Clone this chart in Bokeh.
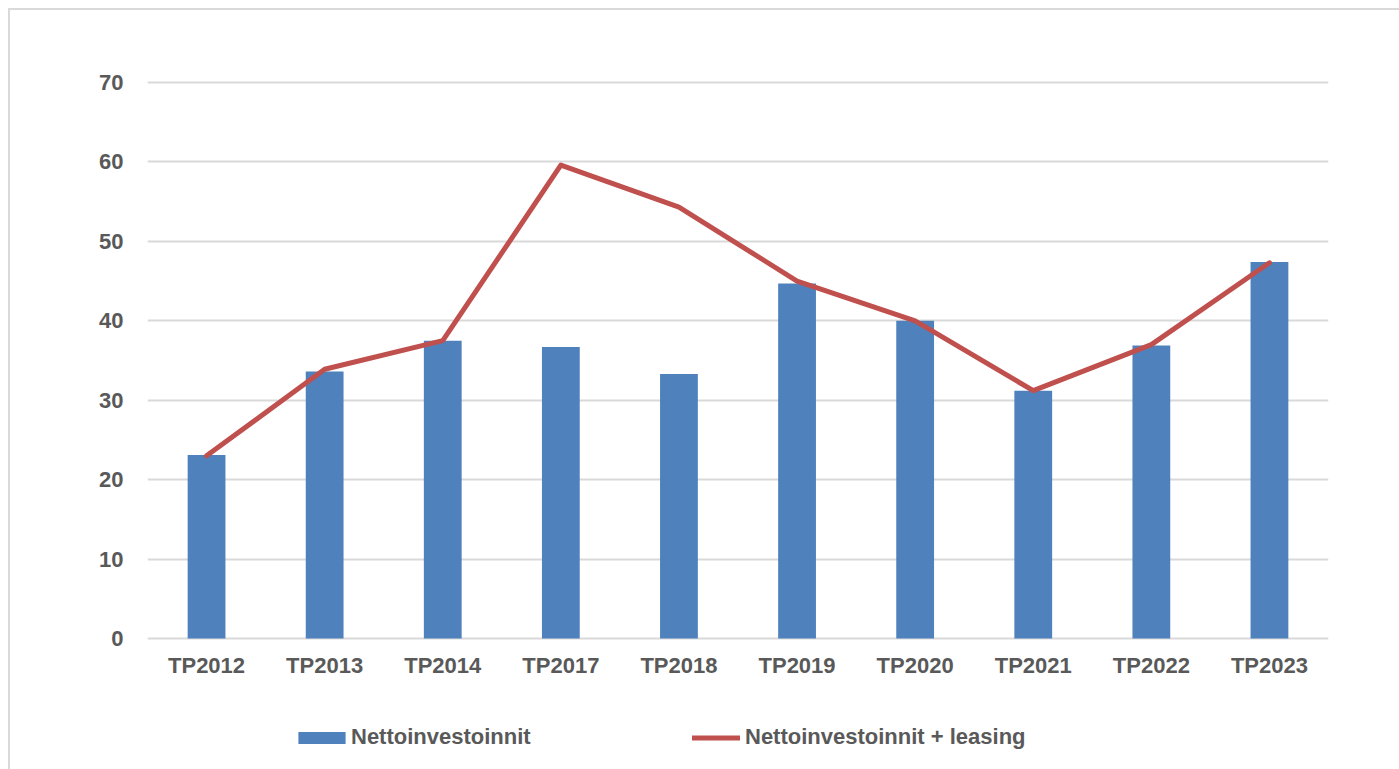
from bokeh.plotting import figure
from bokeh.models import (ColumnDataSource, FactorRange, Range1d, FixedTicker,
                          Legend, LegendItem)
from bokeh.layouts import column
from bokeh.embed import file_html
from bokeh.resources import INLINE

categories = ["TP2012", "TP2013", "TP2014", "TP2017", "TP2018",
              "TP2019", "TP2020", "TP2021", "TP2022", "TP2023"]
nettoinvestoinnit = [23.1, 33.6, 37.5, 36.7, 33.3, 44.7, 40.0, 31.2, 36.9, 47.4]
nettoinvestoinnit_leasing = [23.0, 33.9, 37.5, 59.6, 54.3, 45.0, 40.0, 31.2, 37.0, 47.3]
y_ticks = [0, 10, 20, 30, 40, 50, 60, 70]
series_names = ["Nettoinvestoinnit", "Nettoinvestoinnit + leasing"]

BAR_COLOR = "#4F81BD"
LINE_COLOR = "#C0504D"
TEXT = "#595959"
GRID = "#d9d9d9"
FONT = "Liberation Sans"

src = ColumnDataSource(dict(cat=categories, bar=nettoinvestoinnit,
                            line=nettoinvestoinnit_leasing))

p = figure(x_range=FactorRange(*categories), y_range=Range1d(-0.25, 70.25),
           width=1389, height=690, output_backend="svg", toolbar_location=None,
           min_border_left=137, min_border_right=71, min_border_top=70,
           min_border_bottom=60)
p.outline_line_color = None
p.background_fill_color = "white"
p.border_fill_color = "white"

p.vbar(x="cat", top="bar", bottom=0, width=0.32, source=src,
       fill_color=BAR_COLOR, line_color=None)
p.line(x="cat", y="line", source=src, line_color=LINE_COLOR,
       line_width=5, line_join="round", line_cap="round")

p.xgrid.grid_line_color = None
p.ygrid.grid_line_color = GRID
p.ygrid.grid_line_width = 2
p.yaxis.ticker = FixedTicker(ticks=y_ticks)

for ax in (p.xaxis[0], p.yaxis[0]):
    ax.axis_line_color = None
    ax.major_tick_line_color = None
    ax.minor_tick_line_color = None
    ax.major_label_text_font = FONT
    ax.major_label_text_font_style = "bold"
    ax.major_label_text_font_size = "22px"
    ax.major_label_text_color = TEXT
p.yaxis.major_label_standoff = 18
p.xaxis.major_label_standoff = 6

# legend strip (separate small canvas below the chart; frames are aligned)
lg = figure(width=1389, height=69, output_backend="svg", toolbar_location=None,
            x_range=Range1d(0, 1), y_range=Range1d(0, 1),
            min_border_left=0, min_border_right=0, min_border_top=0,
            min_border_bottom=0, x_axis_location=None, y_axis_location=None)
lg.outline_line_color = None
lg.grid.visible = False
lg.background_fill_color = "white"
lg.border_fill_color = "white"
dummy = ColumnDataSource(dict(x=[-10, -9], y=[-10, -10]))
r_bar = lg.vbar(x="x", top="y", width=0.3, source=dummy,
                fill_color=BAR_COLOR, line_color=None)
r_line = lg.line(x="x", y="y", source=dummy, line_color=LINE_COLOR,
                 line_width=5, line_cap="round")

common = dict(orientation="horizontal", padding=0, margin=0,
              border_line_color=None, background_fill_alpha=0,
              label_text_font=FONT, label_text_font_style="bold",
              label_text_font_size="22px", label_text_color=TEXT)
leg1 = Legend(items=[LegendItem(label=series_names[0], renderers=[r_bar])],
              location=(145, 19), glyph_width=59, glyph_height=15,
              label_standoff=0, **common)
leg2 = Legend(items=[LegendItem(label=series_names[1], renderers=[r_line])],
              location=(545, 19), glyph_width=48, glyph_height=15,
              label_standoff=5, **common)
lg.add_layout(leg1, "center")
lg.add_layout(leg2, "center")

layout = column(p, lg, spacing=0)
layout.styles = {"margin-left": "8px", "margin-top": "8px",
                 "border-top": "2px solid #d9d9d9",
                 "border-left": "2px solid #d9d9d9"}

open("out.html", "w").write(file_html(layout, INLINE))
